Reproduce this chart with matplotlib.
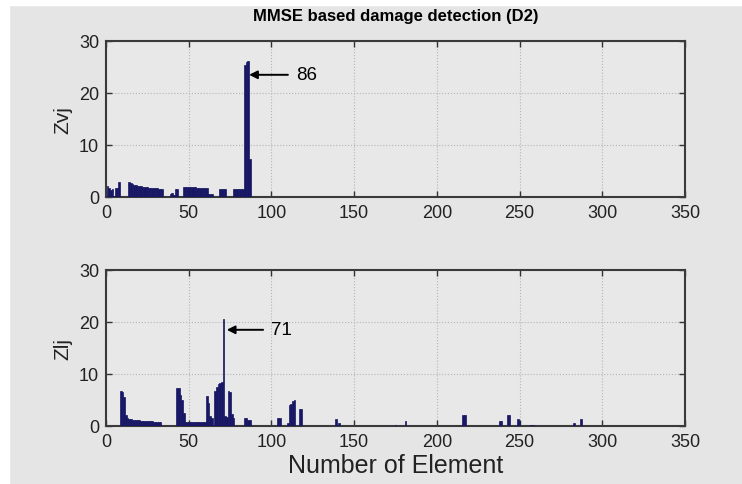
import matplotlib.pyplot as plt
from matplotlib.patches import Rectangle

# Zvj index per element (element number, value)
zvj_elem = [1, 2, 3, 4, 5, 6, 7, 8,
            14, 15, 16, 17, 18, 19, 20, 21, 22, 23, 24, 25, 26, 27, 28, 29, 30, 31, 32, 33, 34,
            39, 40, 41, 42, 43,
            47, 48, 49, 50, 51, 52, 53, 54, 55, 56, 57, 58, 59, 60, 61,
            62, 63, 64,
            69, 70, 71, 72,
            77, 78, 79, 80, 81, 82, 83, 84, 85, 86, 87]
zvj_val = [2.1, 1.7, 1.3, 1.5, 0.2, 1.8, 1.8, 2.8,
           2.8, 2.7, 2.5, 2.4, 2.3, 2.2, 2.15, 2.1, 2.0, 1.95, 1.9, 1.85, 1.8, 1.8, 1.75, 1.7, 1.7, 1.65, 1.6, 1.6, 1.5,
           0.5, 0.7, 0.4, 1.6, 1.5,
           2.0, 2.0, 1.95, 1.9, 1.9, 1.9, 1.85, 1.85, 1.8, 1.8, 1.8, 1.75, 1.75, 1.7, 1.7,
           0.6, 0.5, 0.5,
           1.5, 1.5, 1.5, 1.5,
           1.5, 1.5, 1.5, 1.5, 1.5, 1.5, 1.5, 25.3, 26.0, 26.2, 7.3]

# Zlj index per element
zlj_elem = [9, 10, 11, 12, 13, 14, 15, 16, 17, 18, 19, 20, 21, 22, 23, 24, 25, 26, 27, 28, 29, 30, 31, 32, 33,
            43, 44, 45, 46, 47,
            48, 49, 50, 51, 52, 53, 54, 55, 56, 57, 58, 59, 60,
            61, 62, 63, 64, 66, 67, 68, 69, 70, 71, 72, 73, 74, 75, 76, 77,
            84, 85, 86, 87,
            104, 105, 110, 111, 112, 113, 114, 117, 118,
            139, 141, 175, 181, 216, 217, 238, 239, 243, 244, 249, 250, 257, 258, 283, 287]
zlj_val = [6.8, 6.5, 5.6, 2.2, 1.6, 1.4, 1.3, 1.25, 1.2, 1.15, 1.1, 1.1, 1.05, 1.0, 1.0, 0.95, 0.95, 0.9, 0.9, 0.9,
           0.85, 0.85, 0.8, 0.8, 0.8,
           7.4, 7.3, 6.0, 5.0, 2.5,
           0.7, 0.7, 0.7, 0.7, 0.7, 0.7, 0.7, 0.7, 0.7, 0.7, 0.7, 0.7, 0.7,
           5.7, 4.5, 2.0, 1.5, 6.8, 7.5, 8.1, 8.3, 8.5, 20.5, 2.0, 1.8, 6.8, 6.6, 2.3, 1.5,
           1.5, 1.5, 1.2, 1.2,
           1.5, 1.5, 0.5, 4.1, 4.2, 4.9, 5.0, 3.3, 3.3,
           1.35, 0.5, 0.1, 1.0, 2.2, 2.2, 1.0, 1.0, 2.1, 2.1, 1.3, 1.0, 0.1, 0.1, 0.6, 1.35]

x_ticks = [0, 50, 100, 150, 200, 250, 300, 350]
y_ticks = [0, 10, 20, 30]

bar_color = '#161664'
plt.rcParams['font.family'] = ['Liberation Sans', 'DejaVu Sans']

fig = plt.figure(figsize=(7.42, 4.85), dpi=100, facecolor='#e5e5e5')
# white strips along the top and left edges
fig.patches.append(Rectangle((0, 479 / 485), 1, 6 / 485, transform=fig.transFigure,
                             color='white', zorder=-1))
fig.patches.append(Rectangle((0, 0), 9 / 742, 1, transform=fig.transFigure,
                             color='white', zorder=-1))

ax1 = fig.add_axes([106 / 742, 287 / 485, 579 / 742, 156 / 485])
ax2 = fig.add_axes([106 / 742, 58 / 485, 579 / 742, 156 / 485])

for ax, elem, val, lab in [(ax1, zvj_elem, zvj_val, 'Zvj'), (ax2, zlj_elem, zlj_val, 'Zlj')]:
    ax.set_facecolor('#e8e8e8')
    ax.bar(elem, val, width=1.0, color=bar_color, edgecolor=bar_color, linewidth=0.5, zorder=3)
    ax.set_xlim(0, 350)
    ax.set_ylim(0, 30)
    ax.set_xticks(x_ticks)
    ax.set_yticks(y_ticks)
    ax.grid(True, linestyle=':', color='#b4b4b4', linewidth=0.8, zorder=1)
    ax.tick_params(direction='in', top=True, right=True, length=4, width=1,
                   labelsize=13, labelcolor='#222222', color='#333333', pad=5)
    for s in ax.spines.values():
        s.set_color('#3a3a3a')
        s.set_linewidth(1.5)
    ax.set_ylabel(lab, fontsize=15, color='#222222', labelpad=5)

ax1.set_title('MMSE based damage detection (D2)', fontsize=12, fontweight='bold', pad=15)
ax2.set_xlabel('Number of Element', fontsize=18, color='#222222', labelpad=2)

arrow = dict(arrowstyle='-|>', color='black', lw=1.4, mutation_scale=12, shrinkA=4, shrinkB=0)
ax1.annotate('86', xy=(86.5, 23.5), xytext=(115, 23.5), ha='left', va='center',
             fontsize=13.5, arrowprops=arrow, zorder=5)
ax2.annotate('71', xy=(73, 18.5), xytext=(100, 18.5), ha='left', va='center',
             fontsize=13.5, arrowprops=arrow, zorder=5)

fig.savefig('out.png', dpi=100, facecolor=fig.get_facecolor())
